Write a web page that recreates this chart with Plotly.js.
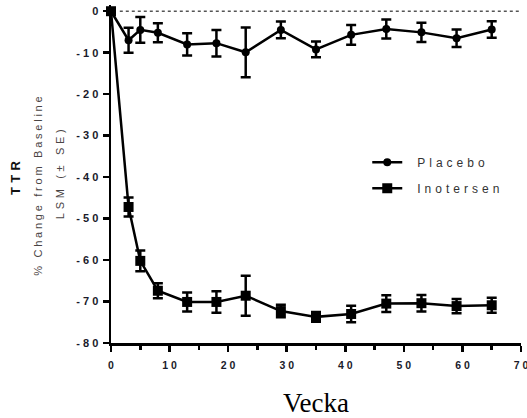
<!DOCTYPE html>
<html><head><meta charset="utf-8">
<script src="https://cdn.plot.ly/plotly-3.0.1.min.js"></script>
<style>html,body{margin:0;padding:0;background:#fff}#c{width:527px;height:418px}</style>
</head><body><div id="c"></div>
<script>
const weeks = [0, 3, 5, 8, 13, 18, 23, 29, 35, 41, 47, 53, 59, 65];
const placebo = [0, -7.0, -4.5, -5.2, -8.0, -7.7, -9.9, -4.5, -9.2, -5.7, -4.3, -5.1, -6.5, -4.4];
const placeboSE = [0, 3.0, 3.1, 2.3, 2.7, 3.2, 6.0, 2.0, 1.9, 2.4, 2.3, 2.3, 2.1, 2.0];
const inotersen = [0, -47.2, -60.2, -67.4, -70.1, -70.1, -68.6, -72.3, -73.7, -73.0, -70.5, -70.4, -71.1, -70.9];
const inotersenSE = [0, 2.3, 2.5, 1.8, 2.3, 2.6, 4.8, 1.5, 1.2, 2.0, 2.0, 2.0, 1.7, 1.8];
const yTicks = [0, -10, -20, -30, -40, -50, -60, -70, -80];
const yTickLabels = ['0', '-10', '-20', '-30', '-40', '-50', '-60', '-70', '-80'];
const xTicks = [0, 10, 20, 30, 40, 50, 60, 70];
const xTickLabels = ['0', '10', '20', '30', '40', '50', '60', '70'];
const names = ['Placebo', 'Inotersen'];

// letter-spaced rendering of a text (the source chart uses wide tracking)
function spaced(s, sep) { return Array.from(s).join(sep); }
const NB = '\u00a0', S4 = '\u2004', S5 = '\u2005', S2 = '\u2002';
const LEAD = S2 + S4; // gap between legend symbol and legend text

const traces = [
  {x: weeks, y: placebo, name: LEAD + spaced(names[0], S4), legendgroup: 'a', type: 'scatter', mode: 'lines+markers',
   line: {color: '#000', width: 2.5}, marker: {symbol: 'circle', size: 8, color: '#000'},
   error_y: {type: 'data', array: placeboSE, visible: true, color: '#000', thickness: 2.5, width: 5},
   cliponaxis: false},
  {x: weeks, y: inotersen, name: LEAD + spaced(names[1], S4), legendgroup: 'b', type: 'scatter', mode: 'lines+markers',
   line: {color: '#000', width: 2.5}, marker: {symbol: 'square', size: 10, color: '#000'},
   error_y: {type: 'data', array: inotersenSE, visible: true, color: '#000', thickness: 2.5, width: 5},
   cliponaxis: false}
];

const layout = {
  width: 527, height: 418,
  margin: {l: 111, r: 6, t: 5, b: 75},
  paper_bgcolor: '#fff', plot_bgcolor: '#fff',
  showlegend: true,
  legend: {x: 0.625, y: 0.578, xanchor: 'left', yanchor: 'top', traceorder: 'grouped', tracegroupgap: 7,
           font: {family: 'Arial, Liberation Sans, sans-serif', size: 12, color: '#333'}, bgcolor: 'rgba(0,0,0,0)'},
  xaxis: {range: [0, 70], showgrid: false, zeroline: false, showline: true, linecolor: '#000', linewidth: 2.5,
          ticks: 'outside', ticklen: 6, tickwidth: 2.5, tickcolor: '#000',
          tickvals: xTicks, ticktext: xTickLabels.map(t => spaced(t, NB)), ticklabelstandoff: 5, ticklabelshift: -1.5,
          ticklabeloverflow: 'allow',
          minor: {dtick: 5, tick0: 0, ticks: 'outside', ticklen: 4, tickwidth: 2.5, tickcolor: '#000', showgrid: false},
          tickfont: {family: 'Arial, Liberation Sans, sans-serif', size: 10.5, color: '#1a1a2a', weight: 'bold'},
          title: {text: 'Vecka', font: {family: 'Liberation Serif, Times New Roman, serif', size: 27, color: '#000'}, standoff: 28}},
  yaxis: {range: [-80, 1.5], showgrid: false, zeroline: false, showline: true, linecolor: '#000', linewidth: 2.5,
          ticks: 'outside', ticklen: 6, tickwidth: 2.5, tickcolor: '#000',
          tickvals: yTicks, ticktext: yTickLabels.map(t => spaced(t, NB)), ticklabelstandoff: 2,
          ticklabeloverflow: 'allow',
          tickfont: {family: 'Arial, Liberation Sans, sans-serif', size: 11, color: '#1a1a2a', weight: 'bold'}},
  shapes: [{type: 'line', xref: 'x', yref: 'y', x0: 1.5, x1: 71, y0: 0, y1: 0,
            line: {color: '#555', width: 1.5, dash: 'dot'}}],
  annotations: [
    {xref: 'paper', yref: 'paper', x: -0.2327, y: 0.49, xanchor: 'center', yanchor: 'middle', textangle: -90,
     text: '<b>' + spaced('TTR', S4) + '</b>', showarrow: false, font: {family: 'Arial, Liberation Sans, sans-serif', size: 13, color: '#111'}},
    {xref: 'paper', yref: 'paper', x: -0.178, y: 0.462, xanchor: 'center', yanchor: 'middle', textangle: -90,
     text: spaced('% Change from Baseline', S5), showarrow: false, font: {family: 'Arial, Liberation Sans, sans-serif', size: 11, color: '#4a4444'}},
    {xref: 'paper', yref: 'paper', x: -0.124, y: 0.5, xanchor: 'center', yanchor: 'middle', textangle: -90,
     text: spaced('LSM (± SE)', S4), showarrow: false, font: {family: 'Arial, Liberation Sans, sans-serif', size: 11, color: '#4a4444'}}
  ]
};
Plotly.newPlot('c', traces, layout, {displayModeBar: false, staticPlot: true});
</script></body></html>
